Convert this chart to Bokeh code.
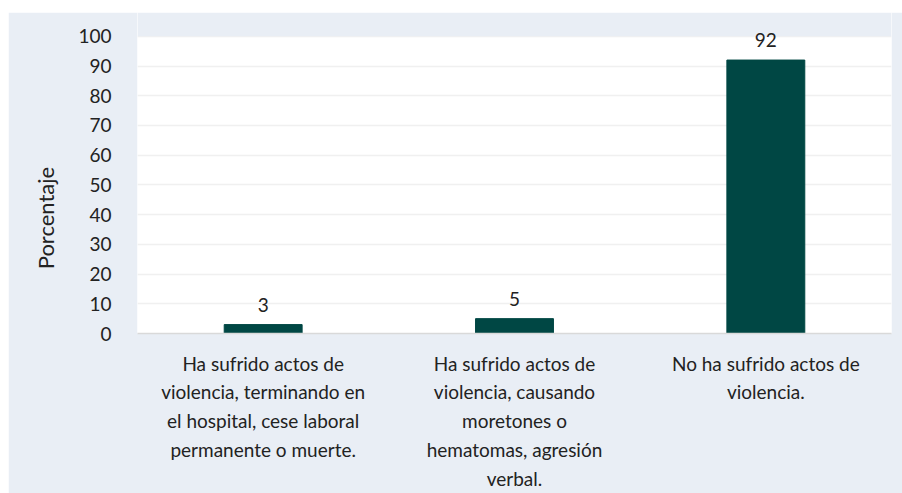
from bokeh.plotting import figure
from bokeh.models import ColumnDataSource, Range1d, FixedTicker, BoxAnnotation
from bokeh.embed import file_html
from bokeh.resources import INLINE
from bokeh.core.properties import value

categories = [
    "Ha sufrido actos de\nviolencia, terminando en\nel hospital, cese laboral\npermanente o muerte.",
    "Ha sufrido actos de\nviolencia, causando\nmoretones o\nhematomas, agresión\nverbal.",
    "No ha sufrido actos de\nviolencia.",
]
values = [3, 5, 92]
value_labels = ["3", "5", "92"]
y_ticks = list(range(0, 101, 10))
y_title = "Porcentaje"

BG = "#E9EEF5"
BAR = "#004744"
FONT = "Lato"
TXT = "#222222"

src = ColumnDataSource(dict(cat=categories, val=values, lab=value_labels))

p = figure(
    x_range=categories, y_range=Range1d(0, 108),
    width=894, height=481, output_backend="svg", toolbar_location=None,
    min_border_left=129, min_border_right=11, min_border_top=0, min_border_bottom=160,
)
p.margin = (12, 0, 0, 8)
p.background_fill_color = "white"
p.border_fill_color = BG
p.outline_line_color = None

# area above the 100 line belongs to the outer panel
p.add_layout(BoxAnnotation(bottom=max(y_ticks), fill_color=BG, fill_alpha=1.0,
                           line_color=None, level="underlay"))

p.vbar(x="cat", top="val", width=0.31, source=src, fill_color=BAR, line_color=BAR)
p.text(x="cat", y="val", text="lab", source=src, text_align="center",
       text_baseline="bottom", y_offset=-13, text_font=value(FONT),
       text_font_size="19px", text_color=TXT)

p.yaxis.ticker = FixedTicker(ticks=y_ticks)
p.yaxis.axis_line_color = None
p.yaxis.major_tick_line_color = None
p.yaxis.minor_tick_line_color = None
p.yaxis.major_label_standoff = 20
p.yaxis.major_label_text_font = FONT
p.yaxis.major_label_text_font_size = "19px"
p.yaxis.major_label_text_color = TXT
p.yaxis.axis_label = y_title + "\u00a0" * 16
p.yaxis.axis_label_text_font = FONT
p.yaxis.axis_label_text_font_size = "22px"
p.yaxis.axis_label_text_font_style = "normal"
p.yaxis.axis_label_text_color = TXT
p.yaxis.axis_label_standoff = 16

p.xaxis.axis_line_color = "#D9D9D9"
p.xaxis.axis_line_width = 1.5
p.xaxis.major_tick_line_color = None
p.xaxis.minor_tick_line_color = None
p.xaxis.major_label_standoff = 12
p.xaxis.major_label_text_font = FONT
p.xaxis.major_label_text_font_size = "19px"
p.xaxis.major_label_text_color = TXT
p.xaxis.major_label_text_line_height = 1.25

p.xgrid.grid_line_color = None
p.ygrid.grid_line_color = "#F0F0F0"
p.ygrid.grid_line_width = 1.5

open("out.html", "w").write(file_html(p, INLINE))
